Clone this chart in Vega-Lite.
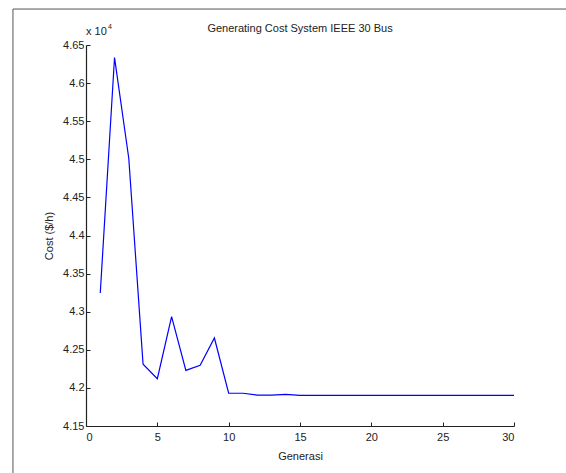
{
  "$schema": "https://vega.github.io/schema/vega-lite/v6.json",
  "autosize": "none",
  "padding": {"left": 86, "top": 45, "right": 52, "bottom": 47},
  "width": 428,
  "height": 381,
  "background": "white",
  "config": {
    "view": {"stroke": null},
    "font": "Liberation Sans",
    "axis": {"labelFont": "Liberation Sans", "titleFont": "Liberation Sans", "labelFontSize": 11, "titleFontSize": 11, "titleFontWeight": "normal", "labelColor": "#222", "titleColor": "#222", "domainColor": "#222", "tickColor": "#222", "grid": false, "labelOverlap": false}
  },
  "layer": [
    {
      "data": {"values": [
        {"gen": 1, "cost": 43245},
        {"gen": 2, "cost": 46335},
        {"gen": 3, "cost": 45010},
        {"gen": 4, "cost": 42310},
        {"gen": 5, "cost": 42120},
        {"gen": 6, "cost": 42935},
        {"gen": 7, "cost": 42230},
        {"gen": 8, "cost": 42297},
        {"gen": 9, "cost": 42655},
        {"gen": 10, "cost": 41930},
        {"gen": 11, "cost": 41930},
        {"gen": 12, "cost": 41905},
        {"gen": 13, "cost": 41905},
        {"gen": 14, "cost": 41915},
        {"gen": 15, "cost": 41902},
        {"gen": 16, "cost": 41902},
        {"gen": 17, "cost": 41902},
        {"gen": 18, "cost": 41902},
        {"gen": 19, "cost": 41902},
        {"gen": 20, "cost": 41902},
        {"gen": 21, "cost": 41902},
        {"gen": 22, "cost": 41902},
        {"gen": 23, "cost": 41902},
        {"gen": 24, "cost": 41902},
        {"gen": 25, "cost": 41902},
        {"gen": 26, "cost": 41902},
        {"gen": 27, "cost": 41902},
        {"gen": 28, "cost": 41902},
        {"gen": 29, "cost": 41902},
        {"gen": 30, "cost": 41902}
      ]},
      "mark": {"type": "line", "color": "#0000ff", "strokeWidth": 1.2},
      "encoding": {
        "x": {"field": "gen", "type": "quantitative", "scale": {"domain": [0, 30], "nice": false}, "axis": {"title": "Generasi", "values": [0, 5, 10, 15, 20, 25, 30], "tickCount": 10, "tickSize": -4, "labelPadding": 9, "titlePadding": 8, "domainWidth": 1.2, "labelOverlap": false}},
        "y": {"field": "cost", "type": "quantitative", "scale": {"domain": [41500, 46500], "nice": false, "zero": false}, "axis": {"title": "Cost ($/h)", "values": [41500, 42000, 42500, 43000, 43500, 44000, 44500, 45000, 45500, 46000, 46500], "tickCount": 12, "labelExpr": "format(datum.value / 10000, '.3~g')", "tickSize": -4, "labelPadding": 6, "titlePadding": 8, "domainWidth": 1.2, "labelOverlap": false, "labelBound": false}}
      }
    },
    {
      "data": {"values": [{"label": "Generating Cost System IEEE 30 Bus"}]},
      "mark": {"type": "text", "align": "center", "baseline": "middle", "dy": -16, "fontSize": 11, "color": "#222", "font": "Liberation Sans"},
      "encoding": {"x": {"datum": 15}, "y": {"datum": 46500}, "text": {"field": "label"}}
    },
    {
      "data": {"values": [{"label": "x 10"}]},
      "mark": {"type": "text", "align": "left", "baseline": "middle", "dy": -13, "dx": 0, "fontSize": 11, "color": "#222", "font": "Liberation Sans"},
      "encoding": {"x": {"datum": 0}, "y": {"datum": 46500}, "text": {"field": "label"}}
    },
    {
      "data": {"values": [{"label": "4"}]},
      "mark": {"type": "text", "align": "left", "baseline": "middle", "dy": -18, "dx": 22, "fontSize": 7, "color": "#222", "font": "Liberation Sans"},
      "encoding": {"x": {"datum": 0}, "y": {"datum": 46500}, "text": {"field": "label"}}
    },
    {
      "data": {"values": [{}]},
      "mark": {"type": "rule", "color": "#555", "strokeWidth": 1, "clip": false},
      "encoding": {"x": {"datum": -5.12}, "x2": {"datum": 40}, "y": {"datum": 46972}}
    },
    {
      "data": {"values": [{}]},
      "mark": {"type": "rule", "color": "#555", "strokeWidth": 1, "clip": false},
      "encoding": {"x": {"datum": -5.12}, "y": {"datum": 46972}, "y2": {"datum": 38000}}
    }
  ]
}
